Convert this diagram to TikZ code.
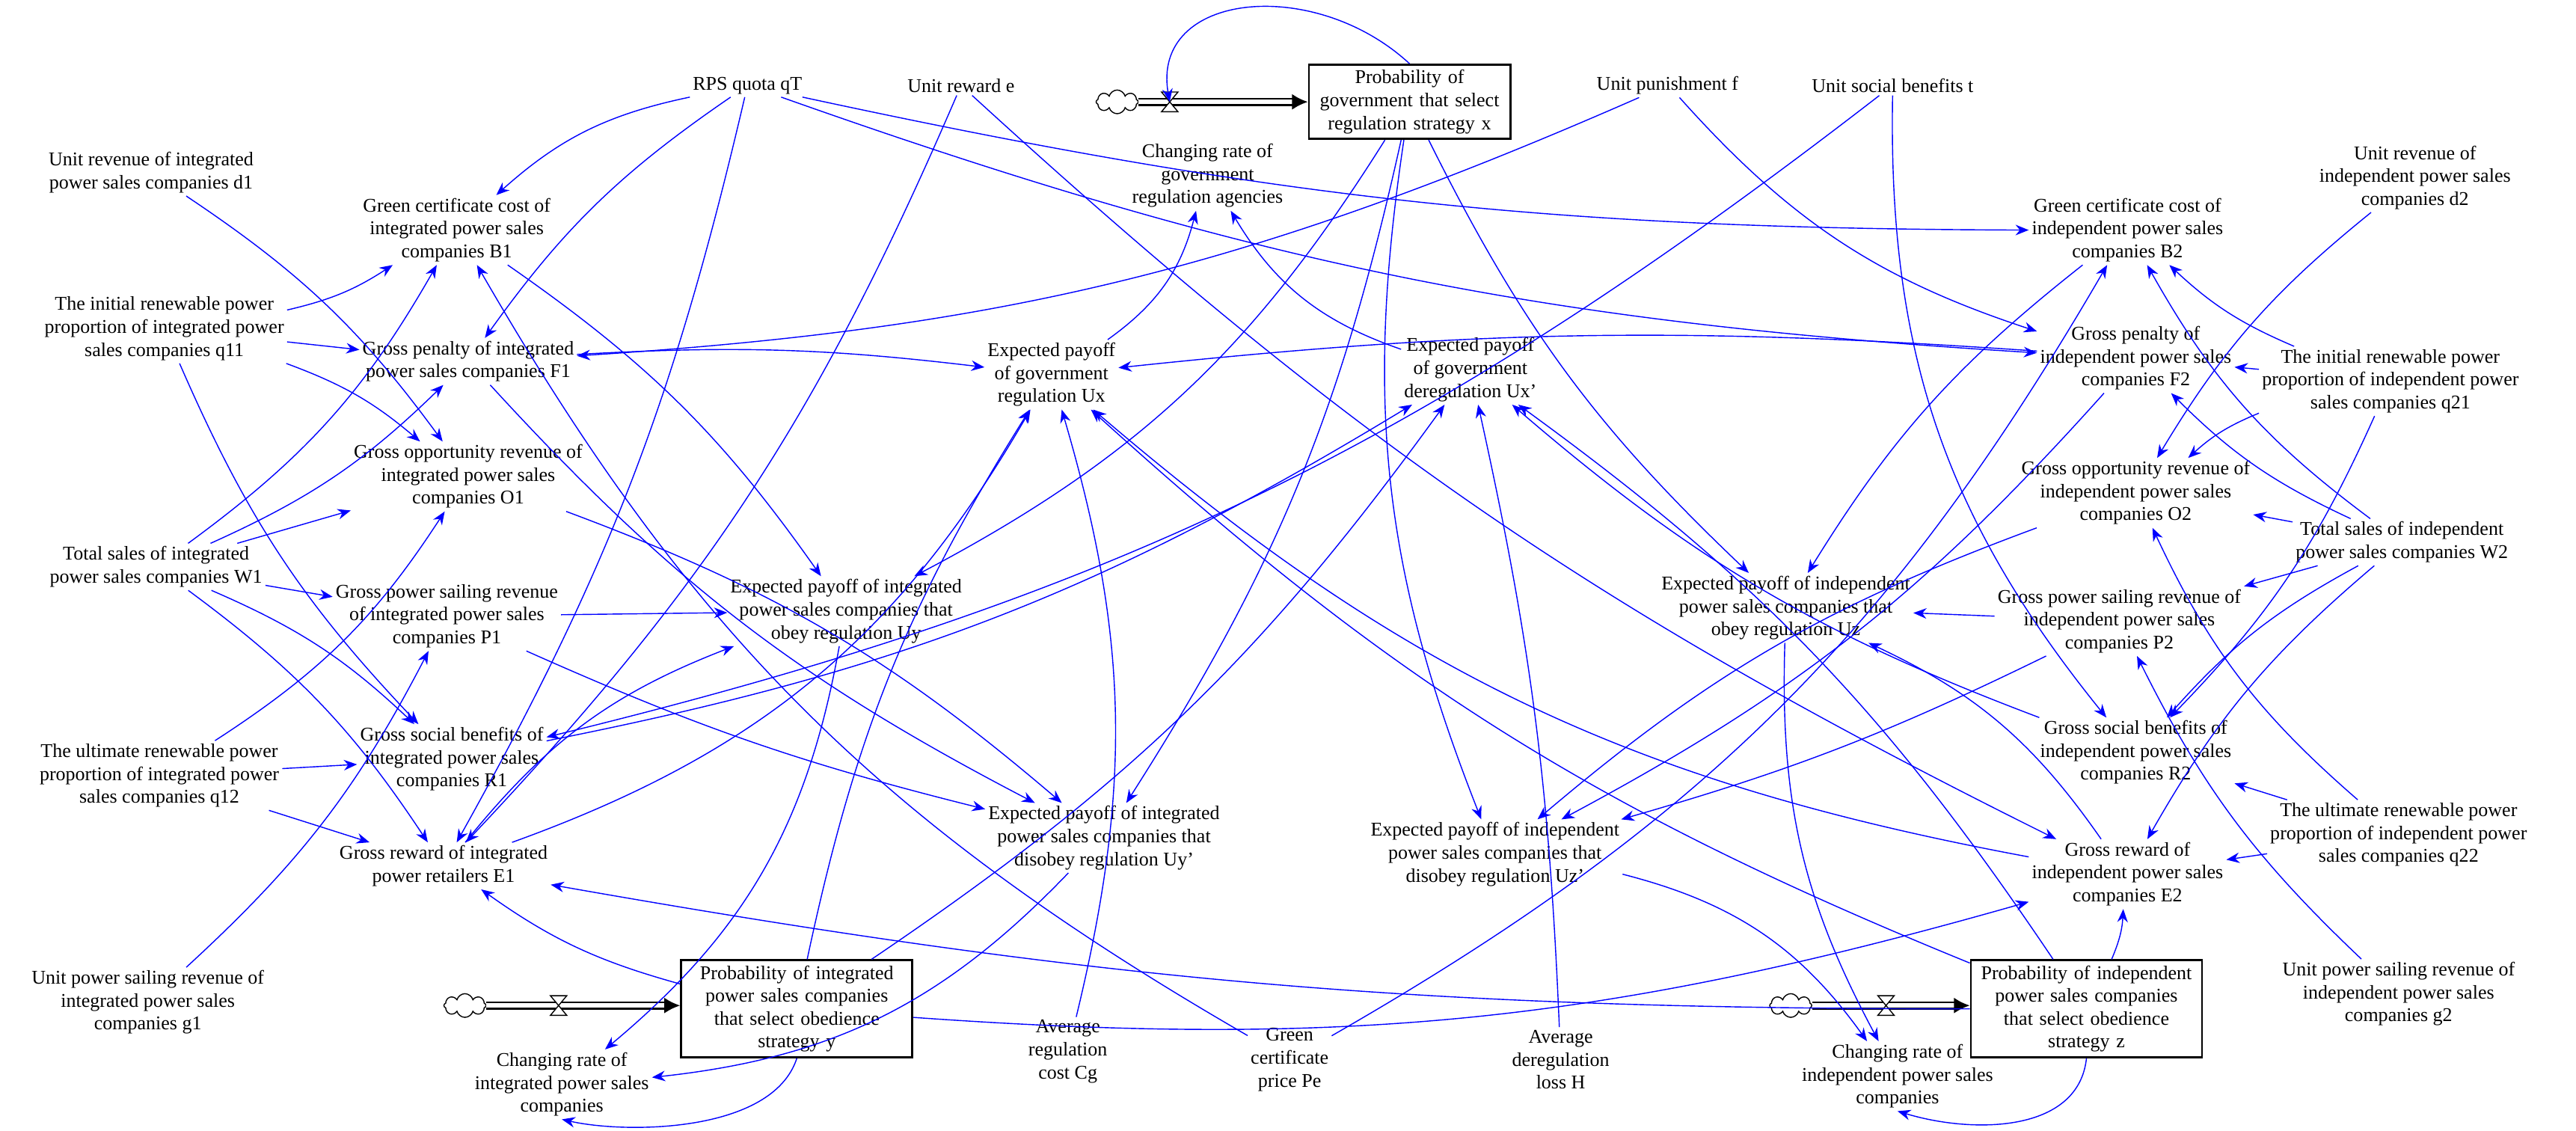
\documentclass[tikz,border=0pt]{standalone}
\usepackage{fontspec}
\setmainfont{Liberation Serif}
\usetikzlibrary{arrows.meta, shapes.symbols, calc}

\tikzset{
  lbl/.style={align=center, inner sep=1pt, font=\fontsize{7.4}{8.7}\selectfont},
  stock/.style={draw, thick, align=center, inner sep=2pt, text width=2.95cm, font=\fontsize{7.4}{8.7}\selectfont},
  lnk/.style={blue, thin, -{Stealth[length=5pt,width=4pt]}},
  pipe/.style={double, double distance=1.6pt, thick, -{Latex[length=6pt,width=6pt]}},
  cld/.style={cloud, cloud puffs=8, draw, fill=white, minimum width=16pt, minimum height=9pt, inner sep=0pt}
}
\newcommand{\valve}[1]{\draw[fill=white] ($(#1)+(-5,-6)$) -- ($(#1)+(5,6)$) -- ($(#1)+(-5,6)$) -- ($(#1)+(5,-6)$) -- cycle;}

\begin{document}
\begin{tikzpicture}[x=0.02196cm, y=-0.02196cm]
\useasboundingbox (0,0) rectangle (1568,688);

% constants along the top
\node[lbl] (qT) at (455,52) {RPS quota qT};
\node[lbl] (e) at (585,52) {Unit reward e};
\node[lbl] (f) at (1015,52) {Unit punishment f};
\node[lbl] (t) at (1152,52) {Unit social benefits t};

% government stock and flow
\node[stock, text width=2.55cm] (x) at (858,62) {Probability of\\government that select\\regulation strategy x};
\node[cld] (cx) at (680,62) {};
\coordinate (vx) at (712,62);
\node[lbl] (dx) at (735,107) {Changing rate of\\government\\regulation agencies};

% integrated side
\node[lbl] (d1) at (92,105) {Unit revenue of integrated\\power sales companies d1};
\node[lbl] (B1) at (278,140) {Green certificate cost of\\integrated power sales\\companies B1};
\node[lbl] (q11) at (100,200) {The initial renewable power\\proportion of integrated power\\sales companies q11};
\node[lbl] (F1) at (285,220) {Gross penalty of integrated\\power sales companies F1};
\node[lbl] (O1) at (285,290) {Gross opportunity revenue of\\integrated power sales\\companies O1};
\node[lbl] (W1) at (95,345) {Total sales of integrated\\power sales companies W1};
\node[lbl] (P1) at (272,375) {Gross power sailing revenue\\of integrated power sales\\companies P1};
\node[lbl] (R1) at (275,462) {Gross social benefits of\\integrated power sales\\companies R1};
\node[lbl] (q12) at (97,472) {The ultimate renewable power\\proportion of integrated power\\sales companies q12};
\node[lbl] (E1) at (270,527) {Gross reward of integrated\\power retailers E1};
\node[lbl] (g1) at (90,610) {Unit power sailing revenue of\\integrated power sales\\companies g1};

% payoffs
\node[lbl] (Ux) at (640,228) {Expected payoff\\of government\\regulation Ux};
\node[lbl] (Uxp) at (895,225) {Expected payoff\\of government\\deregulation Ux'};
\node[lbl] (Uy) at (515,372) {Expected payoff of integrated\\power sales companies that\\obey regulation Uy};
\node[lbl] (Uz) at (1087,370) {Expected payoff of independent\\power sales companies that\\obey regulation Uz};
\node[lbl] (Uyp) at (672,510) {Expected payoff of integrated\\power sales companies that\\disobey regulation Uy'};
\node[lbl] (Uzp) at (910,520) {Expected payoff of independent\\power sales companies that\\disobey regulation Uz'};

% independent side
\node[lbl] (d2) at (1470,108) {Unit revenue of\\independent power sales\\companies d2};
\node[lbl] (B2) at (1295,140) {Green certificate cost of\\independent power sales\\companies B2};
\node[lbl] (F2) at (1300,218) {Gross penalty of\\independent power sales\\companies F2};
\node[lbl] (q21) at (1455,232) {The initial renewable power\\proportion of independent power\\sales companies q21};
\node[lbl] (O2) at (1300,300) {Gross opportunity revenue of\\independent power sales\\companies O2};
\node[lbl] (W2) at (1462,330) {Total sales of independent\\power sales companies W2};
\node[lbl] (P2) at (1290,378) {Gross power sailing revenue of\\independent power sales\\companies P2};
\node[lbl] (R2) at (1300,458) {Gross social benefits of\\independent power sales\\companies R2};
\node[lbl] (q22) at (1460,508) {The ultimate renewable power\\proportion of independent power\\sales companies q22};
\node[lbl] (E2) at (1295,532) {Gross reward of\\independent power sales\\companies E2};
\node[lbl] (g2) at (1460,605) {Unit power sailing revenue of\\independent power sales\\companies g2};

% bottom constants
\node[lbl] (Cg) at (650,640) {Average\\regulation\\cost Cg};
\node[lbl] (Pe) at (785,645) {Green\\certificate\\price Pe};
\node[lbl] (H) at (950,645) {Average\\deregulation\\loss H};

% companies stocks and flows
\node[stock] (y) at (485,614) {Probability of integrated\\power sales companies\\that select obedience\\strategy y};
\node[cld] (cy) at (283,612) {};
\coordinate (vy) at (340,612);
\node[lbl] (dy) at (342,660) {Changing rate of\\integrated power sales\\companies};
\node[stock] (z) at (1270,614) {Probability of independent\\power sales companies\\that select obedience\\strategy z};
\node[cld] (cz) at (1090,612) {};
\coordinate (vz) at (1148,612);
\node[lbl] (dz) at (1155,655) {Changing rate of\\independent power sales\\companies};

% pipes with valves
\draw[pipe] (cx) -- (x);
\draw[pipe] (cy) -- (cy -| y.west);
\draw[pipe] (cz) -- (cz -| z.west);
\valve{vx} \valve{vy} \valve{vz}

% causal links
\foreach \a/\b/\c in {qT/B1/-15, qT/F1/-10, qT/E1/8, qT/F2/-8, qT/B2/-6, e/E1/10, e/E2/-8,
  f/F1/10, f/F2/-15, t/R1/12, t/R2/-20,
  q11/B1/-10, q11/F1/0, q11/O1/10, q11/R1/-10, W1/B1/-12, W1/F1/-10, W1/O1/0, W1/P1/0, W1/R1/10, W1/E1/10,
  d1/O1/10, q12/O1/-12, q12/R1/0, q12/E1/0, g1/P1/-10, Pe/B1/15, Pe/B2/-15,
  q21/B2/10, q21/F2/0, q21/O2/-10, q21/R2/10, W2/B2/12, W2/F2/10, W2/O2/0, W2/P2/0, W2/R2/-10, W2/E2/-10,
  d2/O2/-10, q22/O2/12, q22/R2/0, q22/E2/0, g2/P2/10,
  B1/Uy/10, P1/Uy/0, E1/Uy/15, F1/Uyp/-10, O1/Uyp/10, P1/Uyp/-5,
  B2/Uz/-10, P2/Uz/0, E2/Uz/-15, F2/Uzp/10, O2/Uzp/-10, P2/Uzp/5,
  Cg/Ux/-15, F1/Ux/5, F2/Ux/-5, E1/Ux/-20, E2/Ux/15, R1/Uxp/-10, R2/Uxp/10, H/Uxp/-5,
  y/Ux/10, y/Uxp/-10, z/Ux/10, z/Uxp/-10,
  x/Uy/15, x/Uyp/10, x/Uz/-10, x/Uzp/-15,
  Ux/dx/-20, Uxp/dx/20, Uy/dy/20, Uyp/dy/20, Uz/dz/-15, Uzp/dz/20, y/E1/10, z/E2/-10, y/E2/-10, z/E1/5}
  \draw[lnk] (\a) to[bend left=\c] (\b);

% feedback loops of the stocks
\draw[lnk] (x.north) .. controls (800,-15) and (700,-5) .. (vx);
\draw[lnk] (y.south) .. controls (470,690) and (380,690) .. (dy.south);
\draw[lnk] (z.south) .. controls (1265,690) and (1200,690) .. (dz.south);

\end{tikzpicture}
\end{document}
